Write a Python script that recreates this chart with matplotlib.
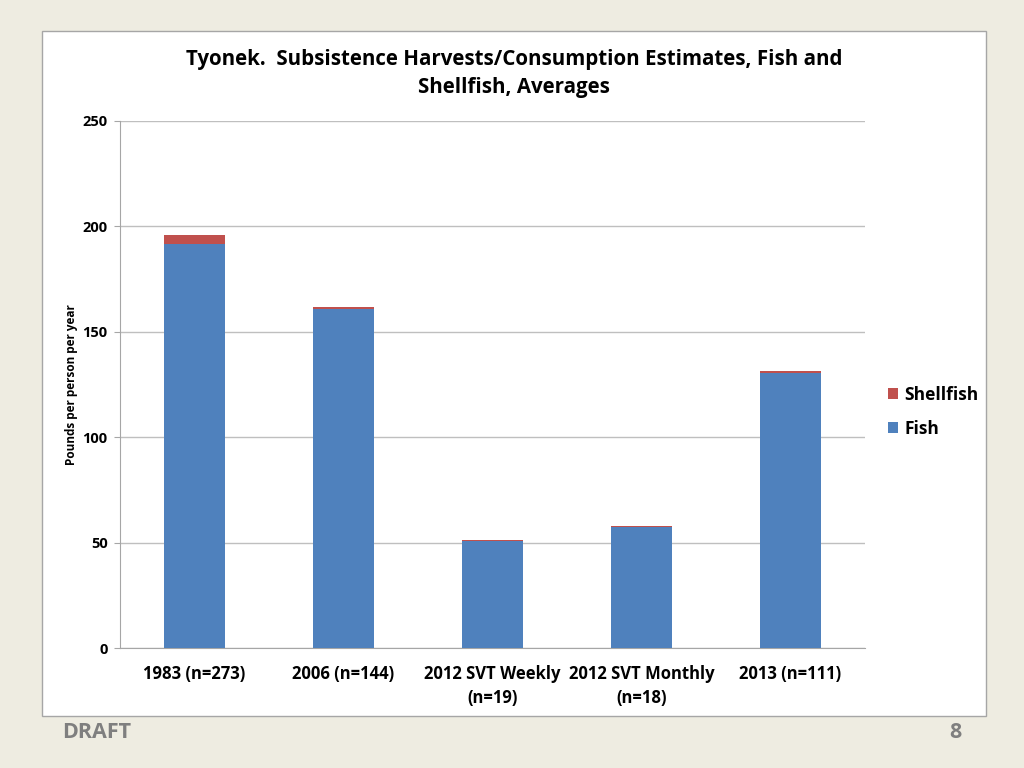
import matplotlib
matplotlib.use("Agg")
import matplotlib.pyplot as plt
from matplotlib.patches import Rectangle
import numpy as np

categories = ["1983 (n=273)", "2006 (n=144)", "2012 SVT Weekly\n(n=19)", "2012 SVT Monthly\n(n=18)", "2013 (n=111)"]
fish = [191.5, 161.0, 50.8, 57.5, 130.3]
shellfish = [4.5, 0.8, 0.3, 0.4, 1.0]
yticks = [0, 50, 100, 150, 200, 250]

plt.rcParams['font.family'] = ['Open Sans', 'DejaVu Sans']

fig = plt.figure(figsize=(10.24, 7.68), dpi=100)
fig.patch.set_facecolor('#EEECE1')

# white chart box
bg = fig.add_axes([0, 0, 1, 1], zorder=-1)
bg.set_xlim(0, 1024)
bg.set_ylim(768, 0)
bg.axis('off')
bg.add_patch(Rectangle((42, 31), 986 - 42, 716 - 31, facecolor='white',
                       edgecolor='#A6A6A6', linewidth=1.0))
bg.text(62, 733, 'DRAFT', color='#7F7F7F', fontsize=15.5, fontweight='bold', va='center', ha='left')
bg.text(962, 733, '8', color='#7F7F7F', fontsize=15.5, fontweight='bold', va='center', ha='right')

ax = fig.add_axes([120/1024, 1-648/768, (865-120)/1024, (648-121)/768], zorder=1)
ax.set_facecolor('white')
x = np.arange(len(categories))
w = 0.41
ax.bar(x, fish, w, color='#4F81BD', label='Fish', zorder=3)
ax.bar(x, shellfish, w, bottom=fish, color='#C0504D', label='Shellfish', zorder=3)

ax.set_ylim(0, 250)
ax.set_xlim(-0.5, len(categories) - 0.5)
ax.set_yticks(yticks)
ax.yaxis.grid(True, color='#BFBFBF', linewidth=1.0, zorder=0)
ax.set_axisbelow(True)
for s in ['top', 'right']:
    ax.spines[s].set_visible(False)
ax.spines['left'].set_color('#A6A6A6')
ax.spines['bottom'].set_color('#A6A6A6')
ax.tick_params(axis='y', length=4, color='#A6A6A6', labelsize=10.5, pad=5)
ax.tick_params(axis='x', length=0, labelsize=12, pad=12)
ax.set_xticks(x)
ax.set_xticklabels(categories, fontweight='bold', linespacing=1.45)
for lbl in ax.get_yticklabels():
    lbl.set_fontweight('bold')
ax.set_ylabel('Pounds per person per year', fontsize=8.5, fontweight='bold', labelpad=3)

ax.set_title('Tyonek.  Subsistence Harvests/Consumption Estimates, Fish and\nShellfish, Averages',
             fontsize=14.8, fontweight='bold', pad=20, linespacing=1.45, x=(514 - 120) / 745)

handles, labels = ax.get_legend_handles_labels()
leg = ax.legend(handles[::-1], labels[::-1], loc='center left', bbox_to_anchor=(1.01, 0.448),
                frameon=False, handlelength=0.6, handleheight=0.6,
                handletextpad=0.35, labelspacing=0.9, prop={'weight': 'bold', 'size': 12.5})

fig.savefig('out.png', dpi=100, facecolor=fig.get_facecolor())
